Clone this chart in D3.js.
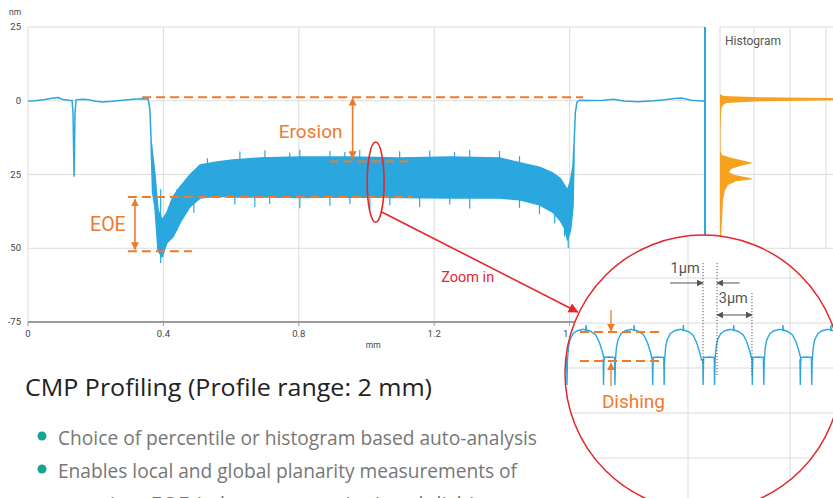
<!DOCTYPE html>
<html>
<head>
<meta charset="utf-8">
<script src="https://cdn.jsdelivr.net/npm/d3@7/dist/d3.min.js"></script>
<style>
  body { margin: 0; background: #fff; }
  svg { display: block; font-family: Roboto, "Liberation Sans", sans-serif; }
</style>
</head>
<body>
<svg id="chart" width="833" height="498"></svg>
<script>
// ---- data ----
var xTicks = [0, 0.4, 0.8, 1.2, 1.6];
var xTickLabels = ["0", "0.4", "0.8", "1.2", "1.6"];
var yTicks = [25, 0, -25, -50, -75];
var yTickLabels = ["25", "0", "25", "50", "-75"];

// flat part left of the trench [mm, nm]
var leftFlat = [[0, -0.1], [0.02, 0], [0.05, 0.4], [0.075, 0.9], [0.09, 1.1], [0.1, 0.5],
  [0.12, 0.2], [0.13, 0.1], [0.133, -4], [0.136, -25.8], [0.139, -4], [0.142, 0.3],
  [0.16, 0.5], [0.18, 0.3], [0.2, -0.2], [0.22, -0.4], [0.25, -0.2], [0.28, 0.2],
  [0.31, 0.5], [0.34, 0.7], [0.355, 0.6], [0.36, -3], [0.364, -14]];
// noisy band [mm, upper nm, lower nm]
var band = [[0.364, -14, -16], [0.368, -18, -31], [0.375, -25, -36], [0.384, -37, -50.6],
  [0.396, -40.4, -53.0], [0.41, -38.0, -48.2], [0.428, -32.6, -46.2], [0.449, -29.2, -41.4],
  [0.478, -25.2, -36.0], [0.508, -21.8, -33.0], [0.558, -20.8, -32.4], [0.605, -20.1, -32.6],
  [0.685, -19.4, -32.6], [0.803, -19.1, -32.8], [0.951, -19.1, -32.6], [1.098, -19.4, -32.8],
  [1.246, -19.1, -33.0], [1.393, -19.4, -33.0], [1.452, -21.0, -33.6], [1.511, -22.5, -35.3],
  [1.55, -24.5, -37.7], [1.571, -26.2, -40.4], [1.585, -28.6, -43.1], [1.594, -30.3, -47.2],
  [1.603, -26.9, -43.8], [1.61, -22, -36], [1.613, -15, -20]];
// visible spikes on the band edges [mm, tip nm]
var upperSpikes = [[0.53, -19.5], [0.626, -17.2], [0.70, -16.8], [0.773, -17.5], [0.803, -16.6],
  [0.892, -17.0], [0.936, -17.4], [0.98, -16.7], [1.098, -17.1], [1.187, -16.9], [1.26, -17.3],
  [1.305, -16.6], [1.393, -17.0], [1.452, -18.8]];
var lowerSpikes = [[0.392, -55], [0.44, -44], [0.49, -38], [0.611, -35.2], [0.67, -36.0],
  [0.714, -35.0], [0.803, -36.4], [0.892, -35.6], [0.951, -35.1], [1.01, -36.8], [1.069, -35.4],
  [1.157, -36.0], [1.246, -35.2], [1.305, -36.5], [1.452, -36.3], [1.511, -38.5],
  [1.556, -41.5], [1.585, -46], [1.596, -50]];
// flat part right of the trench
var rightFlat = [[1.613, -15], [1.617, -4], [1.622, -0.4], [1.63, 0.2], [1.66, 0.1],
  [1.7, 0.2], [1.73, 0.5], [1.76, -0.1], [1.8, -0.3], [1.85, 0], [1.88, 0.3],
  [1.91, 0.8], [1.93, 0.9], [1.96, 0.2], [2.0, -0.2]];
var cursorMm = 2.0;

// histogram [nm, count]
var histBins = [[2.2, 0], [1.6, 4], [1.2, 40], [0.9, 125], [0.2, 125], [-0.2, 40], [-0.8, 6],
  [-1.5, 3], [-2.5, 1.5], [-5, 1], [-10, 0.6], [-17, 0.6], [-18.4, 2], [-19.2, 10],
  [-20.2, 22], [-21.1, 33], [-22.1, 20], [-23.1, 11], [-24.2, 9], [-25.2, 15], [-26.2, 30],
  [-26.6, 33], [-27.3, 16], [-28.6, 8], [-30.3, 5], [-33.6, 3], [-40.4, 2], [-46, 1.2], [-52, 0.6]];
var histGridCounts = [0, 34, 70, 106];

// zoomed-in trace (µm, relative nm)
var gapStarts = [-0.8, 3.1, 7.1, 11.2, 15.2, 19.1, 23.1];
var gapShape = [[0, -12], [0.03, -22], [0.07, -11], [0.5, -10.8], [0.93, -11], [0.96, -22], [1.0, -12]];
var archShape = [[1.0, -12], [1.08, -7], [1.2, -4], [1.45, -1.5], [1.8, -0.3], [2.3, 0.3],
  [2.5, -0.2], [2.52, 2], [2.54, 0], [2.9, -0.6], [3.3, -2], [3.6, -5], [3.85, -9], [4.0, -12]];
var insetGridX = [10.0, 18.3];
var insetGridY = [20.8, 2.8, -15.2, -33.2, -51.2];

// ---- layout ----
var svg = d3.select("#chart");
var x = d3.scaleLinear().domain([0, 2]).range([28, 705]);
var y = d3.scaleLinear().domain([25, -75]).range([27, 322]);
var hx = d3.scaleLinear().domain([0, 113]).range([720, 833]);
var ix = d3.scaleLinear().domain([0, 22]).range([565, 835.6]);
var iy = d3.scaleLinear().domain([0, -20]).range([330, 380]);

var blue = "#2aa7df", orange = "#ee7a2e", red = "#e5262b", grid = "#dcdcdc";

var defs = svg.append("defs");
function marker(id, color, size) {
  defs.append("marker").attr("id", id)
    .attr("viewBox", "0 0 10 10").attr("refX", 9).attr("refY", 5)
    .attr("markerWidth", size).attr("markerHeight", size)
    .attr("markerUnits", "userSpaceOnUse")
    .attr("orient", "auto-start-reverse")
    .append("path").attr("d", "M0,0 L10,5 L0,10 z").attr("fill", color);
}
marker("arrO", orange, 8);
marker("arrG", "#555", 7);
marker("arrR", red, 10);

// grid main
var g = svg.append("g");
g.selectAll(".hg").data(yTicks).enter().append("line")
  .attr("x1", x(0)).attr("x2", x(2)).attr("y1", y).attr("y2", y)
  .attr("stroke", grid).attr("stroke-width", 1);
g.selectAll(".vg").data(xTicks).enter().append("line")
  .attr("x1", x).attr("x2", x).attr("y1", y(25)).attr("y2", y(-75))
  .attr("stroke", grid).attr("stroke-width", 1);
// histogram grid
g.selectAll(".hhg").data(yTicks.slice(0, 4)).enter().append("line")
  .attr("x1", hx(0)).attr("x2", 833).attr("y1", y).attr("y2", y)
  .attr("stroke", grid);
g.selectAll(".hvg").data(histGridCounts).enter().append("line")
  .attr("x1", hx).attr("x2", hx).attr("y1", y(25)).attr("y2", y(-50))
  .attr("stroke", grid);

// x axis line
g.append("line").attr("x1", x(0)).attr("x2", x(2)).attr("y1", y(-75)).attr("y2", y(-75))
  .attr("stroke", "#9a9a9a").attr("stroke-width", 2);
g.selectAll(".xt").data(xTicks).enter().append("line")
  .attr("x1", x).attr("x2", x).attr("y1", y(-75)).attr("y2", y(-75) + 4)
  .attr("stroke", "#9a9a9a");
g.selectAll(".xl").data(xTicks).enter().append("text")
  .attr("x", x).attr("y", y(-75) + 15).attr("text-anchor", "middle")
  .attr("font-size", 9.5).attr("fill", "#444")
  .text(function (d, i) { return xTickLabels[i]; });
g.selectAll(".yl").data(yTicks).enter().append("text")
  .attr("x", 21).attr("y", function (d) { return y(d) + 3; }).attr("text-anchor", "end")
  .attr("font-size", 9.5).attr("fill", "#444")
  .text(function (d, i) { return yTickLabels[i]; });
g.append("text").attr("x", 9).attr("y", 15).attr("font-size", 8.5).attr("fill", "#444").text("nm");
g.append("text").attr("x", x(1.02)).attr("y", 348).attr("font-size", 8.5).attr("fill", "#444")
  .attr("text-anchor", "middle").text("mm");
g.append("text").attr("x", 725).attr("y", 45).attr("font-size", 12).attr("fill", "#555").text("Histogram");

// profile
var line = d3.line().x(function (d) { return x(d[0]); }).y(function (d) { return y(d[1]); });
var area = d3.area().x(function (d) { return x(d[0]); })
  .y0(function (d) { return y(d[2]); }).y1(function (d) { return y(d[1]); });
svg.append("path").datum(band).attr("d", area).attr("fill", blue)
  .attr("stroke", blue).attr("stroke-width", 1.5).attr("stroke-linejoin", "round");
svg.selectAll(".us").data(upperSpikes).enter().append("line")
  .attr("x1", function (d) { return x(d[0]); }).attr("x2", function (d) { return x(d[0]); })
  .attr("y1", y(-22)).attr("y2", function (d) { return y(d[1]); })
  .attr("stroke", blue).attr("stroke-width", 1.2);
svg.selectAll(".ls").data(lowerSpikes).enter().append("line")
  .attr("x1", function (d) { return x(d[0]); }).attr("x2", function (d) { return x(d[0]); })
  .attr("y1", y(-30)).attr("y2", function (d) { return y(d[1]); })
  .attr("stroke", blue).attr("stroke-width", 1.2);
[leftFlat, rightFlat].forEach(function (s) {
  svg.append("path").datum(s).attr("d", line).attr("fill", "none")
    .attr("stroke", blue).attr("stroke-width", 1.5);
});
svg.append("line").attr("x1", x(cursorMm)).attr("x2", x(cursorMm))
  .attr("y1", y(25)).attr("y2", y(-75)).attr("stroke", blue).attr("stroke-width", 2);

// histogram
var harea = d3.area().y(function (d) { return y(d[0]); })
  .x0(hx(0)).x1(function (d) { return hx(d[1]); });
svg.append("path").datum(histBins).attr("d", harea).attr("fill", "#f6a21e");

// orange annotations
var ann = svg.append("g").attr("stroke", orange).attr("stroke-width", 2).attr("fill", "none");
var dashed = [[0.337, 1.64, 1.2], [0.89, 1.13, -20.6], [0.295, 1.135, -32.6], [0.295, 0.484, -51]];
ann.selectAll(".dl").data(dashed).enter().append("line")
  .attr("x1", function (d) { return x(d[0]); }).attr("x2", function (d) { return x(d[1]); })
  .attr("y1", function (d) { return y(d[2]); }).attr("y2", function (d) { return y(d[2]); })
  .attr("stroke-dasharray", "9,5");
var arrows = [[0.959, 0.8, -19.6], [0.316, -33.4, -50.4]];
ann.selectAll(".ar").data(arrows).enter().append("line")
  .attr("x1", function (d) { return x(d[0]); }).attr("x2", function (d) { return x(d[0]); })
  .attr("y1", function (d) { return y(d[1]); }).attr("y2", function (d) { return y(d[2]); })
  .attr("stroke-width", 1.6)
  .attr("marker-start", "url(#arrO)").attr("marker-end", "url(#arrO)");
svg.append("text").attr("x", x(0.835)).attr("y", y(-10.4) + 7).attr("text-anchor", "middle")
  .attr("font-size", 19).attr("fill", orange).text("Erosion");
svg.append("text").attr("x", x(0.236)).attr("y", y(-41.8) + 7).attr("text-anchor", "middle")
  .attr("font-size", 19.5).attr("fill", orange).text("EOE");

// red zoom marker
svg.append("ellipse").attr("cx", x(1.027)).attr("cy", y(-27.6))
  .attr("rx", x(0.025) - x(0)).attr("ry", y(-13.6) - y(0))
  .attr("fill", "none").attr("stroke", red).attr("stroke-width", 1.6);
svg.append("text").attr("x", x(1.299)).attr("y", y(-59.7) + 5).attr("text-anchor", "middle")
  .attr("font-size", 14.5).attr("fill", red).text("Zoom in");

// inset circle
var cx = 703, cy = 373, r = 138;
defs.append("clipPath").attr("id", "circ").append("circle")
  .attr("cx", cx).attr("cy", cy).attr("r", r);
svg.append("circle").attr("cx", cx).attr("cy", cy).attr("r", r).attr("fill", "#fff");
var ins = svg.append("g").attr("clip-path", "url(#circ)");
ins.selectAll(".igx").data(insetGridX).enter().append("line")
  .attr("x1", ix).attr("x2", ix).attr("y1", cy - r).attr("y2", cy + r).attr("stroke", grid);
ins.selectAll(".igy").data(insetGridY).enter().append("line")
  .attr("x1", cx - r).attr("x2", cx + r).attr("y1", iy).attr("y2", iy).attr("stroke", grid);

var trace = [];
gapStarts.forEach(function (s) {
  gapShape.forEach(function (p) { trace.push([s + p[0], p[1]]); });
  archShape.forEach(function (p) { trace.push([s + p[0], p[1]]); });
});
var iline = d3.line().x(function (d) { return ix(d[0]); }).y(function (d) { return iy(d[1]); });
ins.append("path").datum(trace).attr("d", iline).attr("fill", "none")
  .attr("stroke", blue).attr("stroke-width", 1.4);

// dishing annotation
var dish = ins.append("g").attr("stroke", orange).attr("stroke-width", 1.8);
dish.selectAll(".dd").data([-0.8, -12.4]).enter().append("line")
  .attr("x1", ix(1.22)).attr("x2", ix(7.72)).attr("y1", iy).attr("y2", iy)
  .attr("stroke-dasharray", "9,5");
dish.selectAll(".da").data([[8, -0.4], [-22.4, -13.2]]).enter().append("line")
  .attr("x1", ix(3.74)).attr("x2", ix(3.74))
  .attr("y1", function (d) { return iy(d[0]); }).attr("y2", function (d) { return iy(d[1]); })
  .attr("stroke-width", 1.3).attr("marker-end", "url(#arrO)");
ins.append("text").attr("x", ix(3.0)).attr("y", iy(-31.2)).attr("font-size", 19)
  .attr("fill", orange).text("Dishing");

// width annotation
var wd = ins.append("g").attr("stroke", "#555");
wd.selectAll(".dot").data([[11.22, 26.8, -13.2], [12.36, 26.8, -18], [15.2, 14.8, -18]]).enter()
  .append("line")
  .attr("x1", function (d) { return ix(d[0]); }).attr("x2", function (d) { return ix(d[0]); })
  .attr("y1", function (d) { return iy(d[1]); }).attr("y2", function (d) { return iy(d[2]); })
  .attr("stroke-width", 1).attr("stroke-dasharray", "1.2,1.8");
wd.selectAll(".wa").data([[8.54, 11.22], [14.2, 12.36]]).enter().append("line")
  .attr("x1", function (d) { return ix(d[0]); }).attr("x2", function (d) { return ix(d[1]); })
  .attr("y1", iy(18.8)).attr("y2", iy(18.8))
  .attr("stroke-width", 1.2).attr("marker-end", "url(#arrG)");
wd.append("line").attr("x1", ix(12.36)).attr("x2", ix(15.2)).attr("y1", iy(6)).attr("y2", iy(6))
  .attr("stroke-width", 1.2).attr("marker-start", "url(#arrG)").attr("marker-end", "url(#arrG)");
ins.append("text").attr("x", ix(10.95)).attr("y", iy(22.8)).attr("text-anchor", "end")
  .attr("font-size", 14.5).attr("fill", "#555").text("1µm");
ins.append("text").attr("x", ix(12.5)).attr("y", iy(10.8))
  .attr("font-size", 14.5).attr("fill", "#555").text("3µm");

svg.append("circle").attr("cx", cx).attr("cy", cy).attr("r", r)
  .attr("fill", "none").attr("stroke", red).attr("stroke-width", 1.5);

// pointer from ellipse to the inset
svg.append("line").attr("x1", x(1.045)).attr("y1", y(-37.7))
  .attr("x2", x(1.624)).attr("y2", y(-71.6))
  .attr("stroke", red).attr("stroke-width", 1.6).attr("marker-end", "url(#arrR)");

// text block
var txt = svg.append("g").attr("font-family", "'Open Sans', 'Noto Sans', sans-serif");
txt.append("text").attr("x", 25).attr("y", 396).attr("font-size", 24).attr("fill", "#222")
  .attr("textLength", 407).attr("lengthAdjust", "spacingAndGlyphs")
  .text("CMP Profiling (Profile range: 2 mm)");
var bullets = ["Choice of percentile or histogram based auto-analysis",
  "Enables local and global planarity measurements of",
  "erosion, EOE (edge-over-erosion) and dishing"];
var bulletWidths = [479, 459, 430];
txt.selectAll(".bt").data(bullets).enter().append("text")
  .attr("x", function (d, i) { return i < 2 ? 58 : 68; })
  .attr("y", function (d, i) { return 445 + i * 33; })
  .attr("font-size", 20).attr("fill", "#777")
  .attr("textLength", function (d, i) { return bulletWidths[i]; })
  .attr("lengthAdjust", "spacingAndGlyphs")
  .text(function (d) { return d; });
txt.selectAll(".bd").data(bullets.slice(0, 2)).enter().append("circle")
  .attr("cx", 42).attr("cy", function (d, i) { return 436 + i * 33; }).attr("r", 4.5)
  .attr("fill", "#17a392");
</script>
</body>
</html>
